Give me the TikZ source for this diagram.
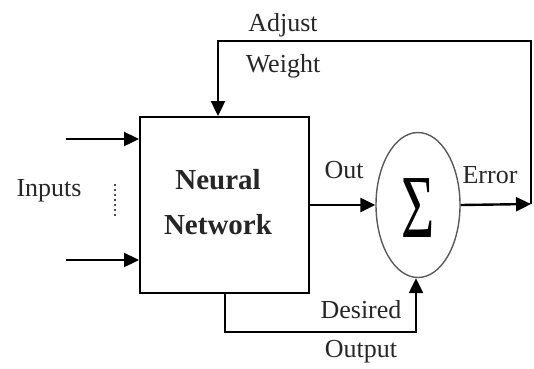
\documentclass[tikz,border=0pt]{standalone}
\usepackage{fontspec}
\setmainfont{Liberation Serif}
\usetikzlibrary{arrows.meta,shapes.geometric}
\begin{document}
\begin{tikzpicture}[x=1pt,y=-1pt,
  conn/.style={line width=2.4pt,-{Triangle[length=15pt,width=14pt]}},
  lbl/.style={font=\fontsize{26}{28}\selectfont, inner sep=0pt, text=black!85},
  blbl/.style={font=\fontsize{29}{30}\selectfont\bfseries, inner sep=0pt, align=center, text=black!85}]
\useasboundingbox (0,0) rectangle (534,368);
\node[draw, line width=2pt, minimum width=169pt, minimum height=176pt, inner sep=0pt] (nn) at (224.5,205) {};
\node[blbl] (nntext) at (218,202) {Neural\\[15pt]Network};
\node[ellipse, draw=black!65, line width=1.4pt, minimum width=84pt, minimum height=145pt, inner sep=0pt] (sum) at (418,205) {};
\node[inner sep=0pt] (sig) at (418,208) {\scalebox{0.95}[1.5]{\fontsize{60}{60}\selectfont Σ}};
% inputs
\coordinate (i1) at (66,139);
\coordinate (i2) at (66,260);
\draw[conn] (i1) -- (i1 -| nn.west);
\draw[conn] (i2) -- (i2 -| nn.west);
\coordinate (dt) at (115,184);
\coordinate (db) at (115,216);
\draw[line width=1.5pt, black!70, dash pattern=on 2pt off 3pt] (dt) -- (db);
\node[lbl] (inputs) at (49,191) {Inputs};
% out
\draw[conn] (nn.east) -- (sum.west);
\node[lbl] (out) at (344,170) {Out};
% error / feedback
\coordinate (c1) at (531,204);
\coordinate (c2) at (531,41);
\coordinate (t1) at (218,41);
\draw[conn] (sum.east) -- (c1);
\draw[conn] (c1) -- (c2) -- (t1) -- (t1 |- nn.north);
\node[lbl] (error) at (490,175) {Error};
\node[lbl] (adjust) at (283,25) {Adjust};
\node[lbl] (weight) at (283,66) {Weight};
% desired
\coordinate (d1) at (225,332);
\coordinate (d2) at (416,332);
\draw[conn] (d1 |- nn.south) -- (d1) -- (d2) -- (d2 |- sum.south);
\node[lbl] (desired) at (361,310) {Desired};
\node[lbl] (output) at (361,352) {Output};
\end{tikzpicture}
\end{document}
